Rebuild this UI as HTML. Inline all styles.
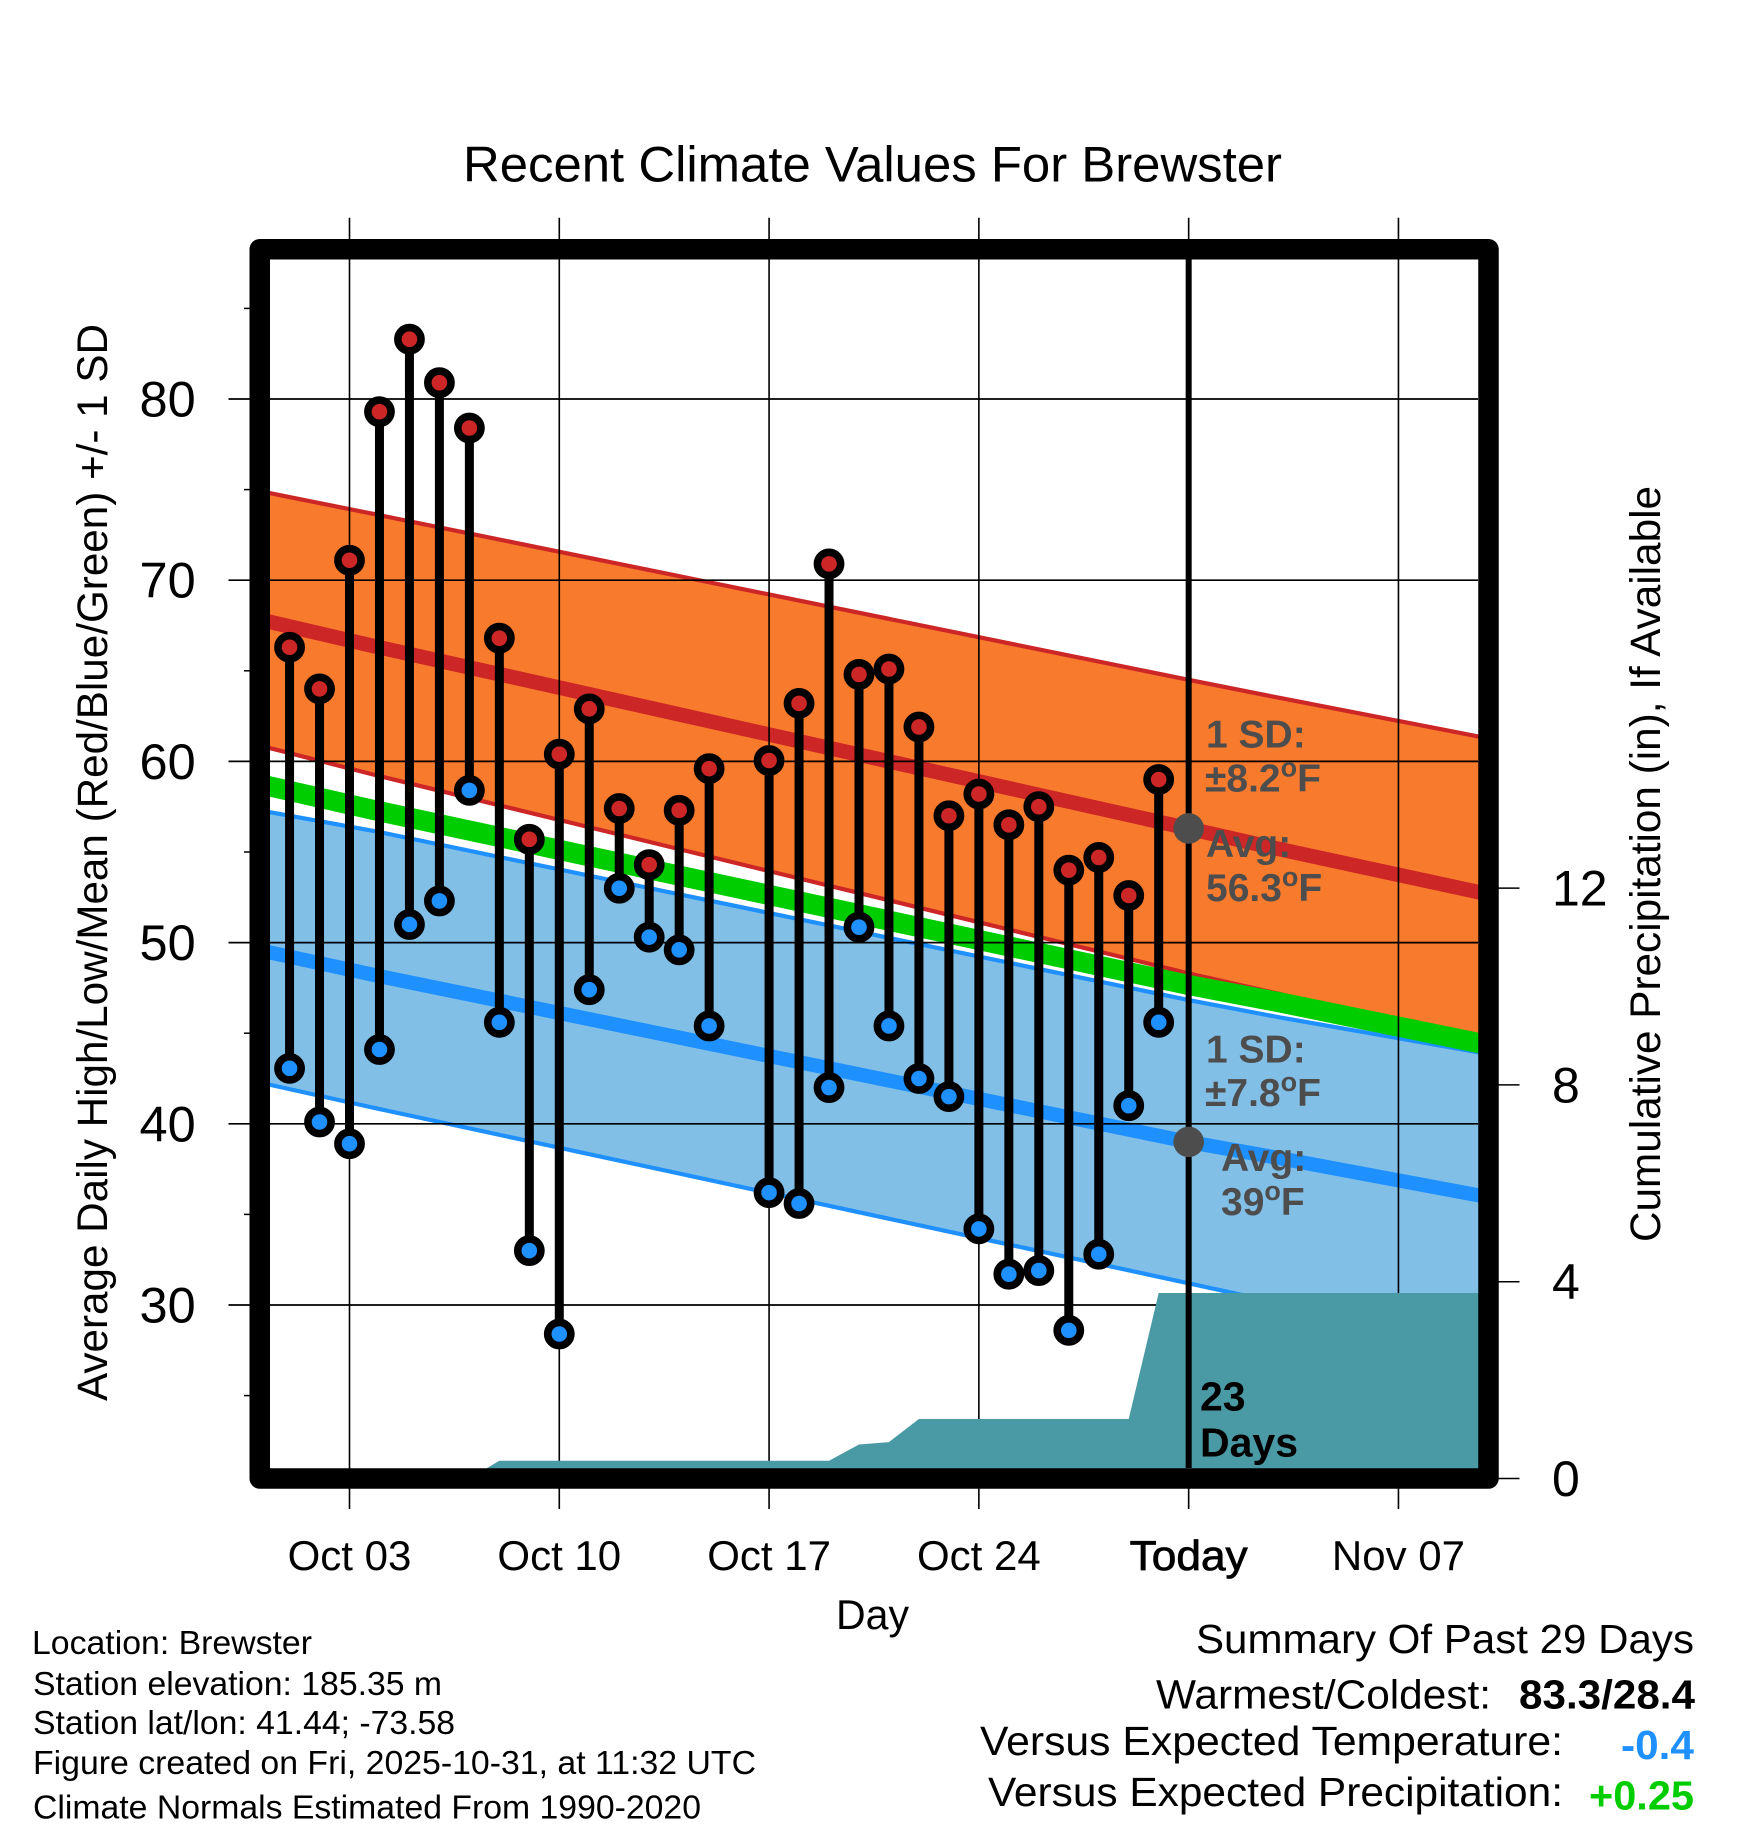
<!DOCTYPE html>
<html lang="en">
<head>
<meta charset="utf-8">
<title>Recent Climate Values For Brewster</title>
<style>
html,body{margin:0;padding:0;background:#fff;width:1748px;height:1828px;overflow:hidden}
svg{display:block}
text{font-family:"Liberation Sans",Arial,Helvetica,sans-serif;fill:#000}
.note{font-weight:bold;fill:#4d4d4d;font-size:39px}
</style>
</head>
<body>
<svg id="chart" xmlns="http://www.w3.org/2000/svg" width="1748" height="1828" viewBox="0 0 1748 1828">
  <rect x="0" y="0" width="1748" height="1828" fill="#fff"/>
  <g id="bands"></g>
  <g id="grid"></g>
  <g id="precip"></g>
  <g id="stems"></g>
  <g id="today"></g>
  <rect x="259.75" y="249.25" width="1228.75" height="1229.25" fill="none" stroke="#000" stroke-width="20.5" stroke-linejoin="round"/>
  <g id="labels"></g>

  <text x="463" y="181.5" font-size="50" textLength="819" lengthAdjust="spacingAndGlyphs">Recent Climate Values For Brewster</text>
  <text x="836" y="1629" font-size="42" textLength="73" lengthAdjust="spacingAndGlyphs">Day</text>
  <text transform="translate(106.8 1401) rotate(-90)" font-size="43" textLength="1077" lengthAdjust="spacingAndGlyphs">Average Daily High/Low/Mean (Red/Blue/Green) +/- 1 SD</text>
  <text transform="translate(1660 1242) rotate(-90)" font-size="43" textLength="756" lengthAdjust="spacingAndGlyphs">Cumulative Precipitation (in), If Available</text>

  <text class="note" x="1206" y="747.5">1 SD:</text>
  <text class="note" x="1205" y="791.5">±8.2<tspan font-size="27" dy="-15">o</tspan><tspan dy="15">F</tspan></text>
  <text class="note" x="1206" y="857">Avg:</text>
  <text class="note" x="1206" y="901">56.3<tspan font-size="27" dy="-15">o</tspan><tspan dy="15">F</tspan></text>
  <text class="note" x="1206" y="1062.5">1 SD:</text>
  <text class="note" x="1205" y="1106">±7.8<tspan font-size="27" dy="-15">o</tspan><tspan dy="15">F</tspan></text>
  <text class="note" x="1221" y="1171">Avg:</text>
  <text class="note" x="1221" y="1215">39<tspan font-size="27" dy="-15">o</tspan><tspan dy="15">F</tspan></text>

  <text x="1200" y="1410.5" font-size="41" font-weight="bold">23</text>
  <text x="1200" y="1456.5" font-size="41" font-weight="bold">Days</text>

  <text x="32" y="1654" font-size="33" textLength="280" lengthAdjust="spacingAndGlyphs">Location: Brewster</text>
  <text x="33" y="1695" font-size="33" textLength="409" lengthAdjust="spacingAndGlyphs">Station elevation: 185.35 m</text>
  <text x="33" y="1734" font-size="33" textLength="422" lengthAdjust="spacingAndGlyphs">Station lat/lon: 41.44; -73.58</text>
  <text x="33" y="1774" font-size="33" textLength="723" lengthAdjust="spacingAndGlyphs">Figure created on Fri, 2025-10-31, at 11:32 UTC</text>
  <text x="33" y="1818.5" font-size="33" textLength="668" lengthAdjust="spacingAndGlyphs">Climate Normals Estimated From 1990-2020</text>

  <text x="1196" y="1653" font-size="41" textLength="498" lengthAdjust="spacingAndGlyphs">Summary Of Past 29 Days</text>
  <text x="1156" y="1708.5" font-size="41" textLength="335" lengthAdjust="spacingAndGlyphs">Warmest/Coldest:</text>
  <text x="1519" y="1708.5" font-size="41" font-weight="bold" textLength="176" lengthAdjust="spacingAndGlyphs">83.3/28.4</text>
  <text x="980" y="1755" font-size="41" textLength="583" lengthAdjust="spacingAndGlyphs">Versus Expected Temperature:</text>
  <text x="1621" y="1759" font-size="41" font-weight="bold" style="fill:#1e90ff" textLength="73" lengthAdjust="spacingAndGlyphs">-0.4</text>
  <text x="988" y="1806" font-size="41" textLength="575" lengthAdjust="spacingAndGlyphs">Versus Expected Precipitation:</text>
  <text x="1589" y="1809.5" font-size="41" font-weight="bold" style="fill:#00cd00" textLength="105" lengthAdjust="spacingAndGlyphs">+0.25</text>
</svg>
<script>
// ---- chart data ----
const days  = [1,2,3,4,5,6,7,8,9,10,11,12,13,14,15,17,18,19,20,21,22,23,24,25,26,27,28,29,30];
const highs = [66.3,64.0,71.1,79.3,83.3,80.9,78.4,66.8,55.7,60.4,62.9,57.4,54.3,57.3,59.6,60.05,63.2,70.9,64.8,65.1,61.9,57.0,58.2,56.5,57.5,54.0,54.7,52.6,59.0];
const lows  = [43.06,40.1,38.9,44.1,51.0,52.3,58.4,45.6,33.0,28.4,47.4,53.0,50.3,49.6,45.4,36.2,35.6,42.0,50.85,45.4,42.5,41.5,34.2,31.7,31.9,28.6,32.8,41.0,45.6];

const normalDays    = [0,3.85,31,34.05,41];
const highUpper     = [74.92,73.64,64.5,63.5,61.27];
const highMean      = [67.83,66.35,56.3,55.15,52.67];
const highLower     = [60.88,59.25,48.3,47.16,44.36];
const normalMean    = [58.75,57.3,47.66,46.7,44.35];
const lowUpper      = [57.3,56.15,46.83,45.87,43.85];
const lowMean       = [49.58,48.2,39,38.1,35.95];
const lowLower      = [42.28,40.87,31.2,30.1,27.68];

const precipDays    = [0,7,8,19,20,21,22,29,30,41];
const precipValues  = [0,0,0.36,0.36,0.69,0.74,1.21,1.21,3.77,3.77];

const todayDay      = 31;
const todayHigh     = 56.3;
const todayLow      = 39;

const xTickDays     = [3,10,17,24,31,38];
const xTickLabels   = ['Oct 03','Oct 10','Oct 17','Oct 24','Today','Nov 07'];
const yMajorTicks   = [30,40,50,60,70,80];
const yMinorTicks   = [25,35,45,55,65,75,85];
const precipTicks   = [0,4,8,12];

// ---- axis functions ----
function xOf(d){ return 349.5 + (d - 3) * 29.97; }
function yOf(t){ return 399 + (80 - t) * 18.12; }
function pOf(p){ return 1478.5 - p * 49.2; }

const NS = 'http://www.w3.org/2000/svg';
function el(parentId, tag, attrs, txt){
  const e = document.createElementNS(NS, tag);
  for (const k in attrs) e.setAttribute(k, attrs[k]);
  if (txt !== undefined) e.textContent = txt;
  document.getElementById(parentId).appendChild(e);
  return e;
}
function linePts(ds, vs){
  return ds.map(function(d, i){ return xOf(d).toFixed(2) + ',' + yOf(vs[i]).toFixed(2); }).join(' ');
}

// ---- bands ----
const highBand = el('bands', 'polygon', {
  points: linePts(normalDays, highUpper) + ' ' + linePts(normalDays.slice().reverse(), highLower.slice().reverse()),
  fill: '#f87a2c', stroke: 'none'
});



const highUpperLine = el('bands', 'polyline', {points: linePts(normalDays, highUpper), fill: 'none', stroke: '#cd2626', 'stroke-width': 4.2});



const highLowerLine = el('bands', 'polyline', {points: linePts(normalDays, highLower), fill: 'none', stroke: '#cd2626', 'stroke-width': 4.2});



const lowBand = el('bands', 'polygon', {
  points: linePts(normalDays, lowUpper) + ' ' + linePts(normalDays.slice().reverse(), lowLower.slice().reverse()),
  fill: '#82bfe6', stroke: 'none'
});



const lowUpperLine = el('bands', 'polyline', {points: linePts(normalDays, lowUpper), fill: 'none', stroke: '#1e90ff', 'stroke-width': 4.2});



const lowLowerLine = el('bands', 'polyline', {points: linePts(normalDays, lowLower), fill: 'none', stroke: '#1e90ff', 'stroke-width': 4.2});



const meanLine = el('bands', 'polyline', {points: linePts(normalDays, normalMean), fill: 'none', stroke: '#00cd00', 'stroke-width': 20.2});



const highLine = el('bands', 'polyline', {points: linePts(normalDays, highMean), fill: 'none', stroke: '#cd2626', 'stroke-width': 14.6});



const lowLine = el('bands', 'polyline', {points: linePts(normalDays, lowMean), fill: 'none', stroke: '#1e90ff', 'stroke-width': 14.2});



// ---- grid and ticks ----
yMajorTicks.forEach(function(t){
  const g = el('grid', 'line', {x1: 228.5, x2: 1478, y1: yOf(t), y2: yOf(t), stroke: '#000', 'stroke-width': 1.7});
  
  
  const lab = el('labels', 'text', {x: 195.7, y: yOf(t) + 17.5, 'text-anchor': 'end', 'font-size': 50.5}, String(t));
  
  
});
yMinorTicks.forEach(function(t){
  const g = el('grid', 'line', {x1: 244, x2: 260, y1: yOf(t), y2: yOf(t), stroke: '#000', 'stroke-width': 1.5});
  
  
});
xTickDays.forEach(function(d, i){
  const g = el('grid', 'line', {x1: xOf(d), x2: xOf(d), y1: 217.7, y2: 1509, stroke: '#000', 'stroke-width': 1.6});
  
  
  const attrs = {x: xOf(d), y: 1570, 'text-anchor': 'middle', 'font-size': 42};
  if (xTickLabels[i] === 'Today') { attrs.stroke = '#000'; attrs['stroke-width'] = 0.8; attrs.textLength = 118; attrs.lengthAdjust = 'spacingAndGlyphs'; }
  const lab = el('labels', 'text', attrs, xTickLabels[i]);
  
  
});
precipTicks.forEach(function(p){
  const g = el('grid', 'line', {x1: 1490, x2: 1519.5, y1: pOf(p), y2: pOf(p), stroke: '#000', 'stroke-width': 1.5});
  
  
  const lab = el('labels', 'text', {x: 1552, y: pOf(p) + 17.5, 'font-size': 50}, String(p));
  
  
});

// ---- cumulative precipitation ----
const precipPts = precipDays.map(function(d, i){ return xOf(d).toFixed(2) + ',' + pOf(precipValues[i]).toFixed(2); });
const precipFirst = xOf(precipDays[0]).toFixed(2) + ',' + pOf(0);
const precipLast = xOf(precipDays[precipDays.length - 1]).toFixed(2) + ',' + pOf(0);
const precipArea = el('precip', 'polygon', {points: precipFirst + ' ' + precipPts.join(' ') + ' ' + precipLast, fill: '#4a9aa5'});



// ---- daily stems ----
days.forEach(function(d, i){
  const stem = el('stems', 'line', {x1: xOf(d), x2: xOf(d), y1: yOf(highs[i]), y2: yOf(lows[i]), stroke: '#000', 'stroke-width': 9});
  
  
  const hi = el('stems', 'circle', {cx: xOf(d), cy: yOf(highs[i]), r: 11.6, fill: '#cd2626', stroke: '#000', 'stroke-width': 7.6});
  
  
  const lo = el('stems', 'circle', {cx: xOf(d), cy: yOf(lows[i]), r: 11.6, fill: '#1e90ff', stroke: '#000', 'stroke-width': 7.6});
  
  
});

// ---- today marker ----
const todayLine = el('today', 'line', {x1: xOf(todayDay), x2: xOf(todayDay), y1: 259, y2: 1468, stroke: '#000', 'stroke-width': 6});


const todayHighDot = el('today', 'circle', {cx: xOf(todayDay), cy: yOf(todayHigh), r: 15.3, fill: '#4d4d4d'});


const todayLowDot = el('today', 'circle', {cx: xOf(todayDay), cy: yOf(todayLow), r: 15.3, fill: '#4d4d4d'});


</script>
</body>
</html>
